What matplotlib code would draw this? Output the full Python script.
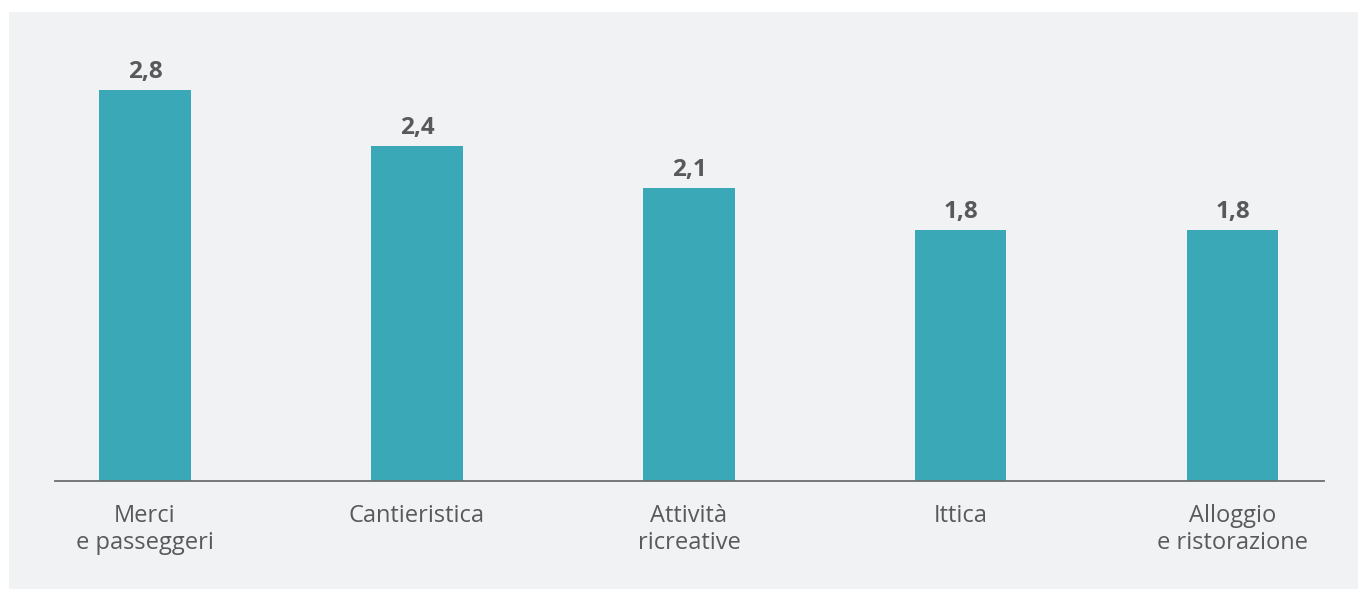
import matplotlib
matplotlib.use("Agg")
import matplotlib.pyplot as plt
from matplotlib.patches import Rectangle

# data
categories = ["Merci\ne passeggeri", "Cantieristica", "Attività\nricreative", "Ittica",
              "Alloggio\ne ristorazione"]
values = [2.8, 2.4, 2.1, 1.8, 1.8]
value_labels = ["2,8", "2,4", "2,1", "1,8", "1,8"]

bar_color = "#3aa8b7"
text_color = "#58595b"
panel_color = "#f1f2f4"

plt.rcParams['font.family'] = ['Open Sans', 'DejaVu Sans']

W, H = 1358, 589
fig = plt.figure(figsize=(W / 100, H / 100), dpi=100)
fig.patch.set_facecolor("white")

# light grey panel behind the chart
fig.patches.append(Rectangle((9 / W, 0), 1 - 9 / W, (H - 12) / H,
                             transform=fig.transFigure, facecolor=panel_color,
                             edgecolor="none", zorder=-10))

ax = fig.add_axes([55 / W, (H - 481) / H, (1324 - 55) / W, (481 - 62) / H])
ax.set_facecolor("none")
ax.set_zorder(5)

x = list(range(len(categories)))
bars = ax.bar(x, values, width=0.335, color=bar_color, zorder=2)

for b, lab in zip(bars, value_labels):
    ax.text(b.get_x() + b.get_width() / 2, b.get_height() + 0.04, lab,
            ha="center", va="bottom", fontsize=17.5, fontweight="bold", color=text_color)

ax.set_xlim(-0.331, 4.335)
ax.set_ylim(0, 3.0)
ax.set_xticks(x)
ax.set_xticklabels(categories, fontsize=17, color=text_color, linespacing=1.17)
ax.tick_params(axis="x", length=0, pad=16.5)
ax.set_yticks([])

for s in ["top", "right", "left"]:
    ax.spines[s].set_visible(False)
ax.spines["bottom"].set_color("#6d6e70")
ax.spines["bottom"].set_linewidth(1.3)

fig.savefig("out.png", dpi=100, facecolor="white")
